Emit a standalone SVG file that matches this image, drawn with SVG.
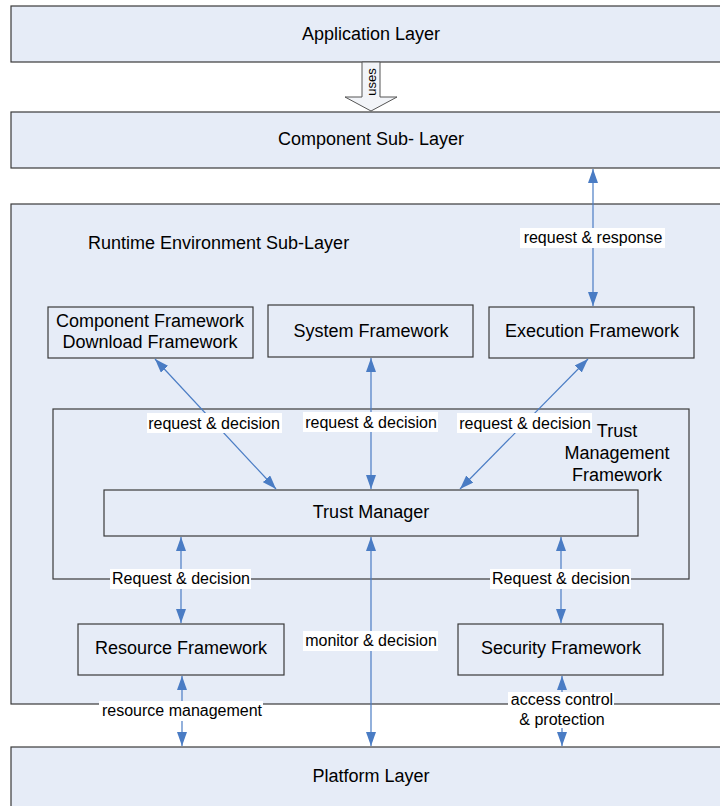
<svg xmlns="http://www.w3.org/2000/svg" width="720" height="806" viewBox="0 0 720 806">
  <style>
    .layer { fill: #e6ecf7; stroke: #3a3a3a; stroke-width: 1.2; }
    .box { fill: #e6ecf7; stroke: #3a3a3a; stroke-width: 1.2; }
    .frame { fill: none; stroke: #3a3a3a; stroke-width: 1.2; }
    .t { font-family: "Liberation Sans", Arial, sans-serif; font-size: 18px; fill: #000; text-anchor: middle; }
    .tl { font-family: "Liberation Sans", Arial, sans-serif; font-size: 16px; fill: #000; text-anchor: middle; }
    .conn { stroke: #4a7cc4; stroke-width: 1.2; fill: none; marker-start: url(#ah); marker-end: url(#ah); }
    .lbg { fill: #ffffff; }
  </style>
  <defs>
    <marker id="ah" viewBox="0 0 14 10" refX="14" refY="5" markerWidth="14" markerHeight="10" markerUnits="userSpaceOnUse" orient="auto-start-reverse">
      <path d="M0,0 L14,5 L0,10 Z" fill="#4a7cc4"/>
    </marker>
  </defs>

  <rect width="720" height="806" fill="#ffffff"/>

  <g id="application-layer">
    <rect class="layer" x="11" y="6" width="715" height="56"/>
    <text class="t" x="371" y="40">Application Layer</text>
  </g>

  <g id="uses-arrow">
    <path d="M362,62 L380,62 L380,97 L397,97 L371,111 L345,97 L362,97 Z" fill="#f2f4f8" stroke="#555" stroke-width="1"/>
    <text font-family="Liberation Sans, Arial, sans-serif" font-size="13" text-anchor="middle" transform="translate(376,82) rotate(-90)">uses</text>
  </g>

  <g id="component-sub-layer">
    <rect class="layer" x="11" y="112" width="715" height="56"/>
    <text class="t" x="371" y="145">Component Sub- Layer</text>
  </g>

  <g id="runtime-environment">
    <rect class="layer" x="11" y="204" width="715" height="500"/>
    <text class="t" x="88" y="249" style="text-anchor:start">Runtime Environment Sub-Layer</text>
  </g>

  <g id="component-download-framework">
    <rect class="box" x="48" y="307" width="205" height="51"/>
    <text class="t" x="150" y="327">Component Framework</text>
    <text class="t" x="150" y="348">Download Framework</text>
  </g>

  <g id="system-framework">
    <rect class="box" x="268" y="305" width="205" height="52"/>
    <text class="t" x="371" y="337">System Framework</text>
  </g>

  <g id="execution-framework">
    <rect class="box" x="489" y="307" width="205" height="51"/>
    <text class="t" x="592" y="337">Execution Framework</text>
  </g>

  <g id="trust-management-framework">
    <rect class="frame" x="53" y="409" width="636" height="170"/>
    <text class="t" x="617" y="437">Trust</text>
    <text class="t" x="617" y="459">Management</text>
    <text class="t" x="617" y="481">Framework</text>
  </g>

  <g id="trust-manager">
    <rect class="box" x="104" y="490" width="534" height="46"/>
    <text class="t" x="371" y="518">Trust Manager</text>
  </g>

  <g id="resource-framework">
    <rect class="box" x="78" y="624" width="206" height="51"/>
    <text class="t" x="181" y="654">Resource Framework</text>
  </g>

  <g id="security-framework">
    <rect class="box" x="458" y="624" width="205" height="51"/>
    <text class="t" x="561" y="654">Security Framework</text>
  </g>

  <g id="platform-layer">
    <rect class="layer" x="11" y="747" width="715" height="70"/>
    <text class="t" x="371" y="782">Platform Layer</text>
  </g>

  <g id="connectors">
    <line class="conn" x1="593" y1="169" x2="593" y2="306"/>
    <line class="conn" x1="155" y1="359" x2="276" y2="489"/>
    <line class="conn" x1="371" y1="358" x2="371" y2="489"/>
    <line class="conn" x1="588" y1="359" x2="460" y2="489"/>
    <line class="conn" x1="181" y1="537" x2="181" y2="623"/>
    <line class="conn" x1="561" y1="537" x2="561" y2="623"/>
    <line class="conn" x1="371" y1="537" x2="371" y2="746"/>
    <line class="conn" x1="182" y1="676" x2="182" y2="746"/>
    <line class="conn" x1="562" y1="676" x2="562" y2="746"/>

    <rect class="lbg" x="520" y="228" width="145" height="20"/>
    <text class="tl" x="593" y="243">request &amp; response</text>

    <rect class="lbg" x="147" y="413" width="135" height="20"/>
    <text class="tl" x="214" y="429">request &amp; decision</text>

    <rect class="lbg" x="303" y="412" width="135" height="20"/>
    <text class="tl" x="371" y="428">request &amp; decision</text>

    <rect class="lbg" x="457" y="413" width="135" height="20"/>
    <text class="tl" x="525" y="429">request &amp; decision</text>

    <rect class="lbg" x="110" y="569" width="141" height="20"/>
    <text class="tl" x="181" y="584">Request &amp; decision</text>

    <rect class="lbg" x="490" y="569" width="141" height="20"/>
    <text class="tl" x="561" y="584">Request &amp; decision</text>

    <rect class="lbg" x="303" y="631" width="135" height="20"/>
    <text class="tl" x="371" y="646">monitor &amp; decision</text>

    <rect class="lbg" x="99" y="701" width="164" height="20"/>
    <text class="tl" x="182" y="716">resource management</text>

    <rect class="lbg" x="508" y="692" width="106" height="36"/>
    <text class="tl" x="562" y="705">access control</text>
    <text class="tl" x="562" y="725">&amp; protection</text>
  </g>
</svg>
